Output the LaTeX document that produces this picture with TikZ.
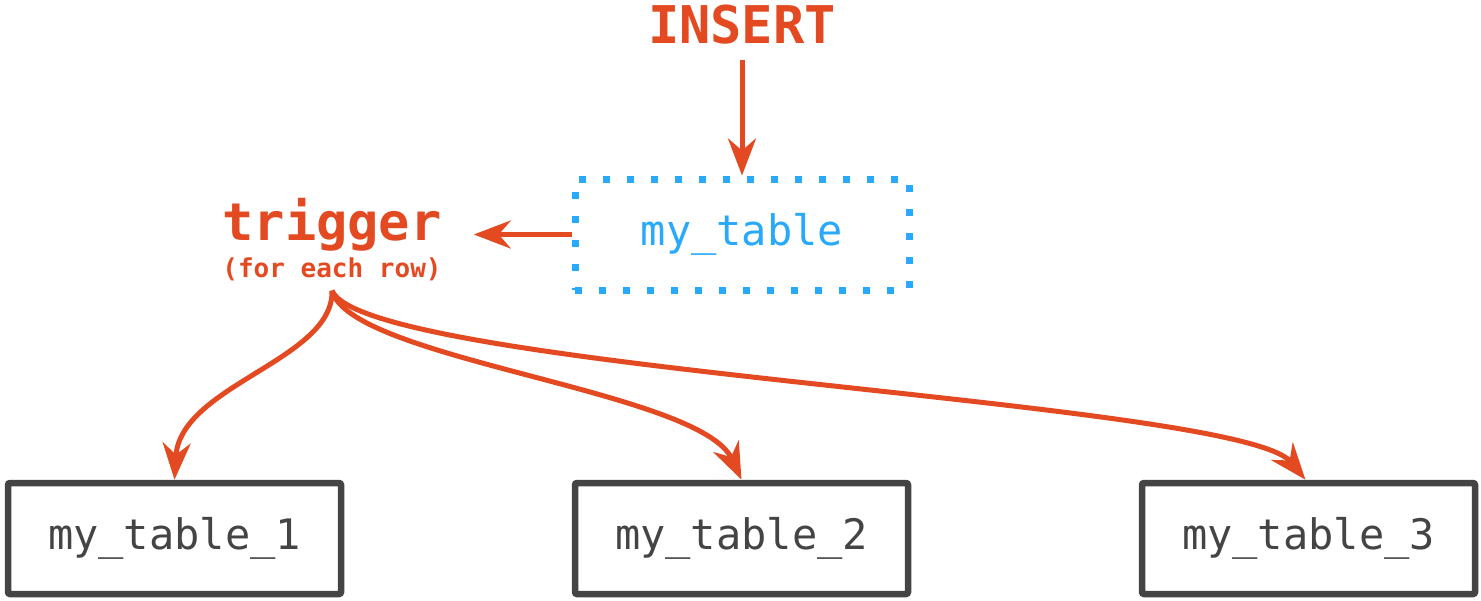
\documentclass[tikz,border=0pt]{standalone}
\usepackage{fontspec}
\setmonofont{DejaVu Sans Mono}
\usetikzlibrary{arrows.meta}
\definecolor{accent}{HTML}{E34A22}
\definecolor{tblblue}{HTML}{29A9FB}
\definecolor{boxgrey}{HTML}{444444}
\tikzset{
  flow/.style={draw=accent, line width=5pt,
    -{Stealth[length=37pt, width=28pt, inset=12pt]}},
  tablebox/.style={draw=boxgrey, line width=6.5pt, rounded corners=2pt,
    minimum width=333pt, minimum height=111pt, inner sep=0pt,
    text=boxgrey, font=\ttfamily\fontsize{42}{48}\selectfont},
  sourcebox/.style={draw=tblblue, line width=7pt, dash pattern=on 7pt off 17pt,
    minimum width=334pt, minimum height=111pt, inner sep=0pt,
    text=tblblue, font=\ttfamily\fontsize{42}{48}\selectfont},
  bigword/.style={text=accent, inner sep=0pt,
    font=\ttfamily\bfseries\fontsize{52}{60}\selectfont},
  smallword/.style={text=accent, inner sep=0pt,
    font=\ttfamily\bfseries\fontsize{26}{30}\selectfont},
}
\begin{document}
\begin{tikzpicture}[x=1pt, y=-1pt]
  \useasboundingbox (0,0) rectangle (1481,600);

  % labels
  \node[bigword, anchor=base] (insert) at (742,43) {INSERT};
  \node[bigword, anchor=base] (trigger) at (332,240) {trigger};
  \node[smallword, anchor=base] (sub) at (332,277) {(for each row)};

  % source table
  \node[sourcebox] (src) at (742,234.5) {my\_table};

  % target tables
  \node[tablebox] (t1) at (174.5,538.5) {my\_table\_1};
  \node[tablebox] (t2) at (741.5,538.5) {my\_table\_2};
  \node[tablebox] (t3) at (1308.5,538.5) {my\_table\_3};

  \coordinate (fork) at ([yshift=-10pt]sub.south);
  \coordinate (ins) at ([yshift=-16pt]insert.south);
  \coordinate (trg) at ([xshift=32pt]trigger.east |- src.west);

  % connectors
  \draw[flow] (ins) -- (src.north);
  \draw[flow] (src.west) -- (trg);
  \draw[flow] (fork) .. controls (334,360) and (180,385) .. (t1.north);
  \draw[flow] (fork) .. controls (350,360) and (700,390) .. (t2.north);
  \draw[flow] (fork) .. controls (365,370) and (1240,400) .. ([xshift=-3pt]t3.north);
\end{tikzpicture}
\end{document}
